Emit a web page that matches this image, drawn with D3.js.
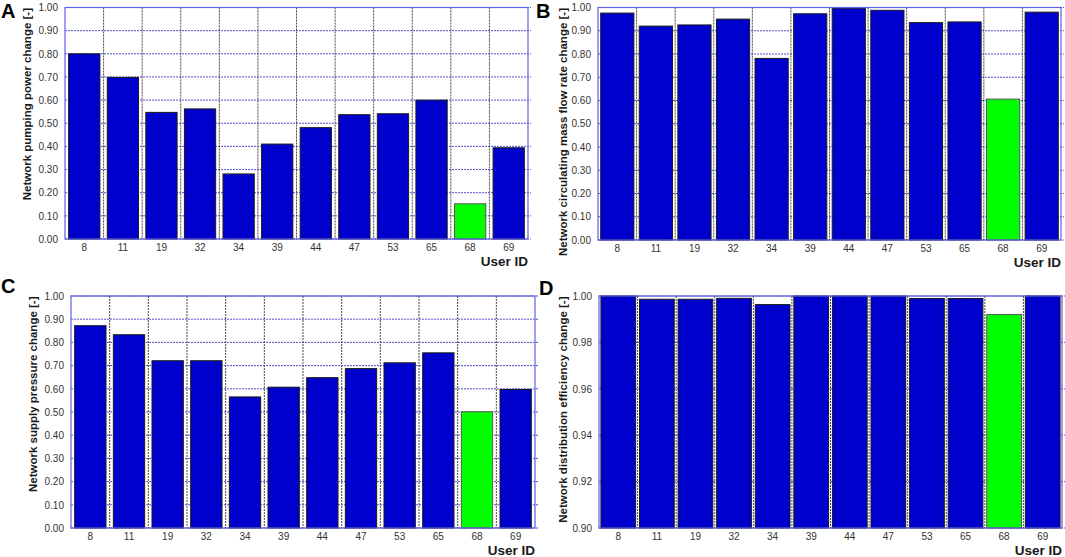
<!DOCTYPE html>
<html>
<head>
<meta charset="utf-8">
<script src="https://cdn.jsdelivr.net/npm/d3@7"></script>
<style>
  html, body { margin: 0; padding: 0; background: #fff; }
  svg { display: block; font-family: Arial, "Liberation Sans", sans-serif; }
</style>
</head>
<body>
<svg id="chart" width="1065" height="557"></svg>
<script>
// values
const userIds = ["8", "11", "19", "32", "34", "39", "44", "47", "53", "65", "68", "69"];
const pumpingPower   = [0.800, 0.698, 0.547, 0.562, 0.281, 0.410, 0.481, 0.537, 0.541, 0.600, 0.152, 0.394];
const massFlowRate   = [0.976, 0.920, 0.925, 0.950, 0.781, 0.973, 0.997, 0.988, 0.935, 0.938, 0.606, 0.980];
const supplyPressure = [0.872, 0.833, 0.721, 0.721, 0.565, 0.607, 0.648, 0.687, 0.712, 0.755, 0.501, 0.597];
const distEfficiency = [1.000, 0.9986, 0.9986, 0.9990, 0.9963, 1.000, 1.000, 1.000, 0.9989, 0.9989, 0.9920, 1.000];
const highlightId = "68";

const unitTicks = [0.0, 0.1, 0.2, 0.3, 0.4, 0.5, 0.6, 0.7, 0.8, 0.9, 1.0];
const effTicks  = [0.90, 0.92, 0.94, 0.96, 0.98, 1.00];

const svg = d3.select("#chart");

const panels = [
  { letter: "A", title: "Network pumping power change [-]", values: pumpingPower,
    domain: [0, 1], ticks: unitTicks, box: { l: 65, r: 528, t: 7.5, b: 239 }, pad: 0.19,
    letterPos: [1, 18], titleX: 27 },
  { letter: "B", title: "Network circulating mass flow rate change [-]", values: massFlowRate,
    domain: [0, 1], ticks: unitTicks, box: { l: 598, r: 1061, t: 7.5, b: 240 }, pad: 0.14,
    letterPos: [536, 18], titleX: 562.5 },
  { letter: "C", title: "Network supply pressure change [-]", values: supplyPressure,
    domain: [0, 1], ticks: unitTicks, box: { l: 71, r: 535, t: 296, b: 528 }, pad: 0.19,
    letterPos: [1, 293], titleX: 32.5 },
  { letter: "D", title: "Network distribution efficiency change [-]", values: distEfficiency,
    domain: [0.9, 1], ticks: effTicks, box: { l: 599, r: 1062, t: 296, b: 528 }, pad: 0.1,
    letterPos: [539, 295], titleX: 562.5 }
];

panels.forEach(p => {
  const { l, r, t, b } = p.box;
  const x = d3.scaleBand().domain(userIds).range([l, r]).paddingInner(p.pad).paddingOuter(p.pad / 2);
  const y = d3.scaleLinear().domain(p.domain).range([b, t]);
  const g = svg.append("g");

  // horizontal grid (blue dotted) + small ticks past right edge
  g.append("g").selectAll("line").data(p.ticks).join("line")
    .attr("x1", l).attr("x2", r + 3)
    .attr("y1", d => y(d)).attr("y2", d => y(d))
    .attr("stroke", "#4040c4").attr("stroke-width", 0.9).attr("stroke-dasharray", "2,1");

  // vertical grid at band edges (dark dotted)
  const edges = userIds.slice(1).map(id => x(id) - x.step() * p.pad / 2);
  g.append("g").selectAll("line").data(edges).join("line")
    .attr("x1", d => d).attr("x2", d => d)
    .attr("y1", t).attr("y2", b)
    .attr("stroke", "#333").attr("stroke-width", 0.9).attr("stroke-dasharray", "2,1");

  // bars
  g.append("g").selectAll("rect").data(userIds).join("rect")
    .attr("x", d => x(d))
    .attr("width", x.bandwidth())
    .attr("y", (d, i) => y(p.values[i]))
    .attr("height", (d, i) => b - y(p.values[i]))
    .attr("fill", d => d === highlightId ? "#00ff00" : "#0000cc")
    .attr("stroke", d => d === highlightId ? "#555" : "#1a1a1a")
    .attr("stroke-width", 1);

  // frame
  g.append("rect")
    .attr("x", l).attr("y", t).attr("width", r - l).attr("height", b - t)
    .attr("fill", "none").attr("stroke", "#6060e8").attr("stroke-width", 1.2);

  // y axis
  g.append("g")
    .attr("transform", `translate(${l},0)`)
    .call(d3.axisLeft(y).tickValues(p.ticks).tickFormat(d3.format(".2f")).tickSize(0).tickPadding(7))
    .call(ax => {
      ax.select(".domain").remove();
      ax.selectAll(".tick text").style("fill", "#333").style("font-size", "10px")
        .style("font-family", "Arial, 'Liberation Sans', sans-serif");
    });

  // x axis
  g.append("g")
    .attr("transform", `translate(0,${b})`)
    .call(d3.axisBottom(x).tickSize(0).tickPadding(5))
    .call(ax => {
      ax.select(".domain").remove();
      ax.selectAll(".tick text").style("fill", "#333").style("font-size", "10px")
        .style("font-family", "Arial, 'Liberation Sans', sans-serif");
    });

  // y title
  g.append("text")
    .attr("transform", `translate(${p.titleX + 4},${t + 0.5}) rotate(-90)`)
    .attr("text-anchor", "end")
    .style("font-size", "11.5px").style("font-weight", "bold").style("fill", "#1a1a1a")
    .text(p.title);

  // x title
  g.append("text")
    .attr("x", r).attr("y", b + 26.5)
    .attr("text-anchor", "end")
    .style("font-size", "13.5px").style("font-weight", "bold").style("fill", "#1a1a1a")
    .text("User ID");

  // panel letter
  g.append("text")
    .attr("x", p.letterPos[0]).attr("y", p.letterPos[1])
    .style("font-size", "20px").style("font-weight", "bold").style("fill", "#000")
    .text(p.letter);
});
</script>
</body>
</html>
